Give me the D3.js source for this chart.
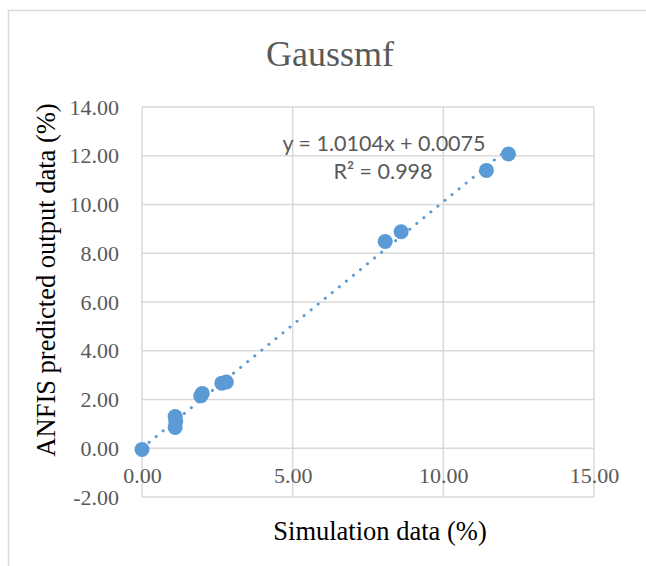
<!DOCTYPE html>
<html>
<head>
<meta charset="utf-8">
<script src="https://cdn.jsdelivr.net/npm/d3@7"></script>
<style>
body { margin: 0; background: #fff; }
svg { display: block; }
</style>
</head>
<body>
<div id="container"></div>
<script>
// chart values
var simData = [0.00, 1.10, 1.12, 1.10, 1.95, 2.00, 2.65, 2.80, 8.07, 8.60, 11.43, 12.16];
var anfisData = [-0.05, 1.30, 1.10, 0.85, 2.15, 2.25, 2.67, 2.72, 8.48, 8.88, 11.40, 12.07];
var xTicks = [0, 5, 10, 15];
var yTicks = [-2, 0, 2, 4, 6, 8, 10, 12, 14];
var slope = 1.0104, intercept = 0.0075;
var eqLines = ["y = 1.0104x + 0.0075", "R² = 0.998"];

var width = 646, height = 566;
var margin = {top: 107, right: 52, bottom: 69, left: 142};

// plain hyphen for negatives, like the original
var fmt = d3.formatLocale({decimal: ".", thousands: ",", grouping: [3], currency: ["", ""], minus: "-"}).format(".2f");

var svg = d3.select("#container").append("svg")
	.attr("width", width)
	.attr("height", height);

// chart area border
svg.append("rect")
	.attr("x", 8.5).attr("y", 10.5)
	.attr("width", 700).attr("height", 600)
	.style("fill", "none")
	.style("stroke", "#d9d9d9")
	.style("stroke-width", 1.5);

var x = d3.scaleLinear().domain([0, 15]).range([margin.left, width - margin.right]);
var y = d3.scaleLinear().domain([-2, 14]).range([height - margin.bottom, margin.top]);

var grid = svg.append("g").attr("class", "grid");
grid.selectAll(".gx").data(xTicks).enter().append("line")
	.attr("x1", function(d) {return x(d)}).attr("x2", function(d) {return x(d)})
	.attr("y1", y(14)).attr("y2", y(-2))
	.style("stroke", "#d9d9d9").style("stroke-width", 1.5);
grid.selectAll(".gy").data(yTicks).enter().append("line")
	.attr("x1", x(0)).attr("x2", x(15))
	.attr("y1", function(d) {return y(d)}).attr("y2", function(d) {return y(d)})
	.style("stroke", "#d9d9d9").style("stroke-width", 1.5);

// y tick labels
var yAxis = d3.axisLeft(y).tickValues(yTicks).tickFormat(fmt).tickSize(0).tickPadding(23);
svg.append("g")
	.attr("transform", "translate(" + margin.left + ",0)")
	.call(yAxis)
	.call(function(g) {g.select(".domain").remove()})
	.selectAll("text")
	.style("font-family", "Liberation Serif")
	.style("font-size", "22px")
	.style("fill", "#595959");

// x tick labels sit under the zero line
var xAxis = d3.axisBottom(x).tickValues(xTicks).tickFormat(fmt).tickSize(0).tickPadding(19);
svg.append("g")
	.attr("transform", "translate(0," + y(0) + ")")
	.call(xAxis)
	.call(function(g) {g.select(".domain").remove()})
	.selectAll("text")
	.style("font-family", "Liberation Serif")
	.style("font-size", "22px")
	.style("fill", "#595959");

// trendline
var xMax = d3.max(simData);
svg.append("line")
	.attr("x1", x(0)).attr("y1", y(intercept))
	.attr("x2", x(xMax)).attr("y2", y(slope * xMax + intercept))
	.style("stroke", "#5b9bd5")
	.style("stroke-width", 3)
	.style("stroke-linecap", "round")
	.style("stroke-dasharray", "0.1 9");

// points
svg.selectAll(".dot").data(simData).enter().append("circle")
	.attr("class", "dot")
	.attr("cx", function(d) {return x(d)})
	.attr("cy", function(d, i) {return y(anfisData[i])})
	.attr("r", 7.5)
	.style("fill", "#5b9bd5");

// equation label
svg.append("text")
	.attr("x", 384).attr("y", 151)
	.style("text-anchor", "middle")
	.style("font-family", "Lato")
	.style("font-size", "21.5px")
	.style("fill", "#595959")
	.text(eqLines[0]);
svg.append("text")
	.attr("x", 383).attr("y", 179)
	.style("text-anchor", "middle")
	.style("font-family", "Lato")
	.style("font-size", "21.5px")
	.style("fill", "#595959")
	.text(eqLines[1]);

// title
svg.append("text")
	.attr("x", 330).attr("y", 66)
	.style("text-anchor", "middle")
	.style("font-family", "Liberation Serif")
	.style("font-size", "36px")
	.style("fill", "#595959")
	.text("Gaussmf");

// axis titles
svg.append("text")
	.attr("x", 380).attr("y", 540)
	.style("text-anchor", "middle")
	.style("font-family", "Liberation Serif")
	.style("font-size", "26.5px")
	.style("fill", "#000")
	.text("Simulation data (%)");
svg.append("text")
	.attr("transform", "translate(55," + ((y(14) + y(-2)) / 2 - 22) + ") rotate(-90)")
	.style("text-anchor", "middle")
	.style("font-family", "Liberation Serif")
	.style("font-size", "26.5px")
	.style("fill", "#000")
	.text("ANFIS predicted output data (%)");
</script>
</body>
</html>
